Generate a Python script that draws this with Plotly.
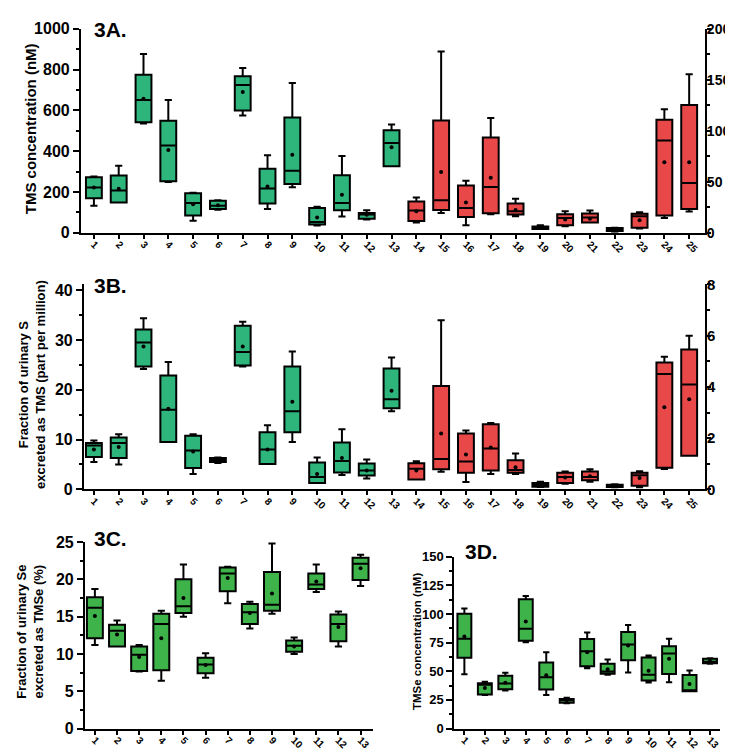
import plotly.graph_objects as go

W, H = 733, 750

# ---------------- DATA ----------------
cats_ab = [str(i) for i in range(1, 26)]
cats_cd = [str(i) for i in range(1, 14)]

# 3A: groups 1-13 (left axis, nM), groups 14-25 (right axis)
A_upper = [275, 328, 876, 650, 196, 159, 807, 380, 734, 127, 376, 110, 530,
           34.4, 177.7, 51, 112.4, 33.4, 7.3, 21, 21.7, 4.8, 20, 121, 155.4]
A_q3 = [272, 280, 774, 549, 193, 156, 767, 314, 565, 121, 282, 96, 502,
        30.6, 110, 46.2, 93.3, 28.7, 6, 18.2, 18.8, 4.5, 18.5, 110.8, 125.2]
A_median = [221, 207, 650, 427, 145, 132, 724, 217, 304, 53, 146, 89, 440,
            21.7, 31.8, 24.2, 44.9, 21, 5.1, 14.3, 15, 3.2, 16.2, 90.4, 48.7]
A_q1 = [169, 148, 541, 252, 84, 116, 599, 143, 239, 40, 110, 68, 326,
        11.5, 22.3, 15.3, 19.1, 17.8, 3.5, 7.3, 9.9, 1.6, 4.8, 16.9, 23.2]
A_lower = [132, 148, 535, 248, 59, 113, 575, 116, 223, 35, 80, 65, 326,
           9.9, 19.4, 7.3, 18.2, 16.2, 3.5, 6.4, 9.9, 1.0, 4.1, 14.3, 20.7]
A_mean = [222, 216, 657, 406, 140, 135, 690, 226, 382, 75, 186, 88, 419,
          21, 59.6, 29.6, 53.8, 22.3, 5.1, 13, 13.7, 2.5, 12.1, 69.1, 69.1]

# 3B: groups 1-13 (left axis), groups 14-25 (right axis)
B_upper = [9.8, 11.1, 34.4, 25.6, 11.1, 6.4, 33.7, 12.9, 27.7, 6.4, 12.1, 6.0, 26.5,
           1.10, 6.6, 2.30, 2.59, 1.40, 0.30, 0.70, 0.79, 0.20, 0.71, 5.18, 6.0]
B_q3 = [9.3, 10.4, 32.1, 22.9, 10.8, 6.3, 32.9, 11.5, 24.7, 5.4, 9.4, 5.2, 24.3,
        1.02, 4.04, 2.18, 2.54, 1.14, 0.25, 0.65, 0.70, 0.18, 0.65, 4.95, 5.46]
B_median = [8.8, 9.3, 29.5, 16.0, 7.8, 5.9, 27.6, 8.0, 15.7, 2.5, 5.7, 3.8, 18.1,
            0.81, 1.19, 1.09, 1.60, 0.76, 0.18, 0.48, 0.48, 0.14, 0.55, 4.50, 4.09]
B_q1 = [6.5, 6.3, 24.7, 9.5, 4.3, 5.5, 24.9, 5.1, 11.5, 1.3, 3.4, 2.8, 16.3,
        0.39, 0.79, 0.65, 0.74, 0.65, 0.10, 0.25, 0.36, 0.09, 0.14, 0.84, 1.31]
B_lower = [5.5, 5.0, 24.2, 9.5, 3.1, 5.3, 24.7, 5.1, 9.5, 1.3, 2.9, 2.2, 15.7,
           0.39, 0.69, 0.29, 0.60, 0.60, 0.09, 0.22, 0.30, 0.08, 0.08, 0.80, 1.31]
B_mean = [8.0, 8.5, 28.7, 16.2, 7.6, 5.8, 28.7, 8.0, 17.6, 3.1, 6.3, 3.8, 19.8,
          0.74, 2.18, 1.36, 1.63, 0.86, 0.18, 0.46, 0.51, 0.14, 0.44, 3.21, 3.52]

# 3C
C_upper = [18.7, 14.5, 11.2, 15.8, 22.0, 10.1, 21.7, 17.0, 24.8, 12.2, 22.0, 15.7, 23.3]
C_q3 = [17.6, 13.9, 11.0, 15.4, 20.0, 9.5, 21.6, 16.7, 21.0, 11.8, 20.8, 15.3, 22.9]
C_median = [16.2, 13.1, 9.9, 14.0, 16.4, 8.6, 20.8, 15.6, 16.6, 11.1, 19.3, 14.0, 22.1]
C_q1 = [12.1, 11.0, 7.7, 7.8, 15.5, 7.4, 18.4, 14.0, 15.8, 10.3, 18.7, 11.7, 19.9]
C_lower = [11.2, 11.0, 7.65, 6.4, 15.0, 6.8, 16.8, 13.4, 15.4, 10.0, 18.3, 11.0, 19.1]
C_mean = [15.1, 12.6, 9.6, 12.1, 17.5, 8.5, 20.2, 15.5, 18.1, 11.0, 19.7, 13.6, 21.5]

# 3D
D_upper = [104.7, 40.8, 48.7, 115.8, 66.5, 26.9, 83.8, 60.3, 90.3, 63.7, 78.4, 50.7, 61.4]
D_q3 = [100.2, 39.6, 46.1, 112.9, 57.7, 25.8, 78.1, 56.6, 84.3, 62.0, 71.9, 46.7, 60.9]
D_median = [78.4, 38.2, 39.3, 87.2, 44.7, 24.6, 67.4, 49.8, 73.3, 47.0, 65.4, 33.4, 58.3]
D_q1 = [61.7, 29.7, 34.2, 76.7, 34.0, 22.4, 54.3, 47.8, 59.7, 41.9, 47.6, 32.6, 56.9]
D_lower = [47.3, 29.2, 33.1, 75.3, 29.2, 22.1, 52.6, 47.0, 49.0, 40.2, 40.5, 32.6, 56.6]
D_mean = [80.4, 35.4, 39.9, 93.4, 46.4, 24.6, 66.5, 51.8, 72.5, 50.4, 60.9, 38.8, 58.9]

TEAL = "#2db57b"
GREEN = "#3db34a"
RED = "#e94848"
FONT = "Liberation Sans, Arial, sans-serif"

fig = go.Figure()


def add_boxes(xs, up, q3, med, q1, lo, mn, color, xa, ya, width):
    fig.add_trace(go.Box(
        x=xs, q1=q1, median=med, q3=q3, lowerfence=lo, upperfence=up,
        fillcolor=color, line=dict(color="black", width=2),
        width=width, whiskerwidth=0.45, xaxis=xa, yaxis=ya,
        showlegend=False, hoverinfo="skip"))
    fig.add_trace(go.Scatter(
        x=xs, y=mn, mode="markers", marker=dict(color="black", size=4),
        xaxis=xa, yaxis=ya, showlegend=False, hoverinfo="skip"))


pos_ab = list(range(1, 26))
pos_cd = list(range(1, 14))

# 3A
add_boxes(pos_ab[:13], A_upper[:13], A_q3[:13], A_median[:13], A_q1[:13], A_lower[:13], A_mean[:13],
          TEAL, "x", "y", 0.64)
add_boxes(pos_ab[13:], A_upper[13:], A_q3[13:], A_median[13:], A_q1[13:], A_lower[13:], A_mean[13:],
          RED, "x", "y2", 0.64)
# 3B
add_boxes(pos_ab[:13], B_upper[:13], B_q3[:13], B_median[:13], B_q1[:13], B_lower[:13], B_mean[:13],
          TEAL, "x2", "y3", 0.64)
add_boxes(pos_ab[13:], B_upper[13:], B_q3[13:], B_median[13:], B_q1[13:], B_lower[13:], B_mean[13:],
          RED, "x2", "y4", 0.64)
# 3C
add_boxes(pos_cd, C_upper, C_q3, C_median, C_q1, C_lower, C_mean, GREEN, "x3", "y5", 0.72)
# 3D
add_boxes(pos_cd, D_upper, D_q3, D_median, D_q1, D_lower, D_mean, GREEN, "x4", "y6", 0.68)


def px_x(a, b):
    return [a / W, b / W]


def px_y(top, bottom):
    return [1 - bottom / H, 1 - top / H]


def xax(dom, rng, cats, anchor, fs=10):
    return dict(domain=dom, range=rng, anchor=anchor, tickmode="array",
                tickvals=list(range(1, len(cats) + 1)), ticktext=cats,
                tickangle=45, ticks="outside", ticklen=4, tickwidth=2, tickcolor="black",
                ticklabelstandoff=-4,
                showline=True, linecolor="black", linewidth=2, showgrid=False,
                zeroline=False, tickfont=dict(family=FONT, size=fs, color="black", weight="bold"))


def yax(dom, rng, dtick, minor, anchor, side="left", overlay=None, fs=16, tl=6, so=0):
    d = dict(domain=dom, range=rng, anchor=anchor, side=side, dtick=dtick, tick0=0,
             ticks="outside", ticklen=tl, tickwidth=2, tickcolor="black",
             ticklabelstandoff=so,
             minor=dict(ticks="outside", ticklen=3, tickwidth=2, tickcolor="black",
                        dtick=minor, tick0=0, showgrid=False),
             showline=True, linecolor="black", linewidth=2, showgrid=False, zeroline=False,
             tickfont=dict(family=FONT, size=fs, color="black", weight="bold"))
    if overlay:
        d["overlaying"] = overlay
    return d


# 3A geometry
dA_x = px_x(73, 698)
dA_y = px_y(12, 221)
# 3B geometry
dB_x = px_x(76, 698)
dB_y = px_y(274, 484)
# 3C / 3D
dC_x = px_x(77, 365)
dC_y = px_y(538, 729)
dD_x = px_x(447, 713)
dD_y = px_y(553, 729)

fig.update_layout(
    width=W, height=H, margin=dict(l=0, r=0, t=0, b=0),
    paper_bgcolor="white", plot_bgcolor="rgba(0,0,0,0)",
    font=dict(family=FONT, color="black"),
    xaxis=xax(dA_x, [0.476, 25.64], cats_ab, "y"),
    yaxis=yax(dA_y, [0, 1000], 200, 100, "x"),
    yaxis2=yax(dA_y, [0, 200], 50, 25, "x", side="right", overlay="y", fs=14, tl=4, so=-7),
    xaxis2=xax(dB_x, [0.597, 25.64], cats_ab, "y3"),
    yaxis3=yax(dB_y, [0, 41.18], 10, 5, "x2"),
    yaxis4=yax(dB_y, [0, 8], 2, 1, "x2", side="right", overlay="y3", fs=15, tl=4, so=-7),
    xaxis3=xax(dC_x, [0.549, 13.54], cats_cd, "y5"),
    yaxis5=yax(dC_y, [0, 25], 5, 2.5, "x3"),
    xaxis4=xax(dD_x, [0.512, 13.49], cats_cd, "y6"),
    yaxis6=yax(dD_y, [0, 150], 25, 12.5, "x4", fs=13),
)

ann = []


def label(text, xpx, ypx, size=21, angle=0, xanchor="left"):
    ann.append(dict(text=text, x=xpx / W, y=1 - ypx / H, xref="paper", yref="paper",
                    showarrow=False, textangle=angle, xanchor=xanchor, yanchor="middle",
                    font=dict(family=FONT, size=size, color="black", weight="bold")))


label("3A.", 84, 13)
label("3B.", 84, 275)
label("3C.", 84, 534)
label("3D.", 456, 548)

label("TMS concentration (nM)", 22, 114, size=15, angle=-90, xanchor="center")
label("Fraction of urinary S<br>excreted as TMS (part per million)", 24, 376, size=13,
      angle=-90, xanchor="center")
label("Fraction of urinary Se<br>excreted as TMSe (%)", 22, 630, size=13, angle=-90,
      xanchor="center")
label("TMSe concentration (nM)", 409, 639, size=11.5, angle=-90, xanchor="center")

fig.update_layout(annotations=ann)

fig.write_html("out.html")
